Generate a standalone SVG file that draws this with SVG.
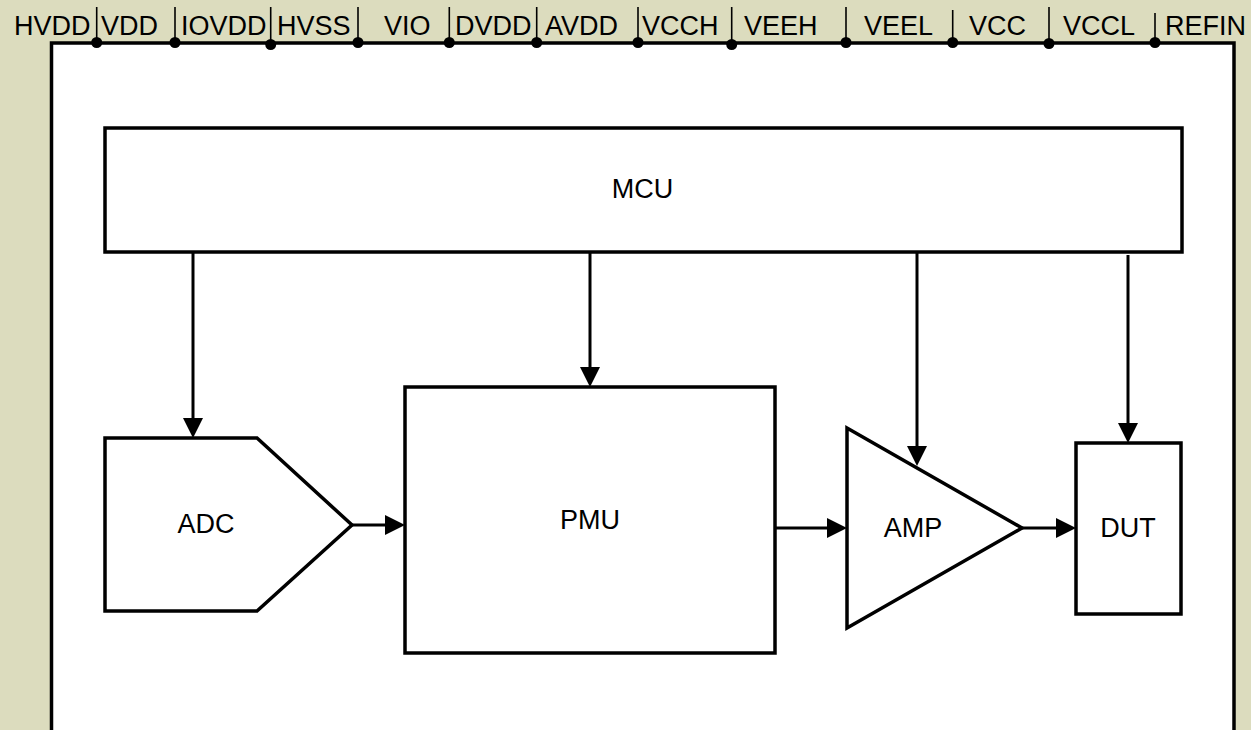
<svg xmlns="http://www.w3.org/2000/svg" width="1251" height="730" viewBox="0 0 1251 730">
<defs>
<style>
.bg{fill:#DCDCBE}
.frame{fill:#FFFFFF;stroke:#000;stroke-width:3.5}
.box{fill:#FFFFFF;stroke:#000;stroke-width:3.5;stroke-linejoin:miter}
.conn{fill:none;stroke:#000;stroke-width:3}
.tick{stroke:#000;stroke-width:1.6}
.dot{fill:#000}
.pin{font-family:"Liberation Sans",Arial,sans-serif;font-size:27px;fill:#000}
.lbl{font-family:"Liberation Sans",Arial,sans-serif;font-size:27px;fill:#000;text-anchor:middle}
</style>
<marker id="ah" viewBox="0 0 20 20" refX="10" refY="10" markerWidth="20" markerHeight="20" markerUnits="userSpaceOnUse" orient="auto">
<path d="M0,0 L20,10 L0,20 Z" fill="#000"/>
</marker>
</defs>
<rect class="bg" x="0" y="0" width="1251" height="730"/>
<g id="frame">
<path class="frame" d="M51.5,732 V43 H1234 V732"/>
</g>
<g id="pins">
<g class="tick-group">
<line class="tick" x1="96.7" y1="7" x2="96.7" y2="42"/>
<line class="tick" x1="175" y1="7" x2="175" y2="42"/>
<line class="tick" x1="270.7" y1="7" x2="270.7" y2="44"/>
<line class="tick" x1="358" y1="7" x2="358" y2="42"/>
<line class="tick" x1="449.3" y1="7" x2="449.3" y2="42"/>
<line class="tick" x1="536.7" y1="7" x2="536.7" y2="42"/>
<line class="tick" x1="638" y1="7" x2="638" y2="42"/>
<line class="tick" x1="731.7" y1="7" x2="731.7" y2="44"/>
<line class="tick" x1="846" y1="7" x2="846" y2="42"/>
<line class="tick" x1="952.7" y1="10" x2="952.7" y2="42"/>
<line class="tick" x1="1049" y1="7" x2="1049" y2="42"/>
<line class="tick" x1="1155" y1="13" x2="1155" y2="42"/>
</g>
<circle class="dot" cx="96.7" cy="42.5" r="5.5"/>
<circle class="dot" cx="175" cy="42.5" r="5.5"/>
<circle class="dot" cx="270.7" cy="44.5" r="5.5"/>
<circle class="dot" cx="358" cy="42.5" r="5.5"/>
<circle class="dot" cx="449.3" cy="42.5" r="5.5"/>
<circle class="dot" cx="536.7" cy="42.5" r="5.5"/>
<circle class="dot" cx="638" cy="42.5" r="5.5"/>
<circle class="dot" cx="731.7" cy="44.5" r="5.5"/>
<circle class="dot" cx="846" cy="42.5" r="5.5"/>
<circle class="dot" cx="952.7" cy="42.5" r="5.5"/>
<circle class="dot" cx="1049" cy="43.5" r="5.5"/>
<circle class="dot" cx="1155" cy="42.5" r="5.5"/>
<text class="pin" x="14" y="35">HVDD</text>
<text class="pin" x="101" y="35">VDD</text>
<text class="pin" x="181" y="35">IOVDD</text>
<text class="pin" x="277" y="35">HVSS</text>
<text class="pin" x="384" y="35">VIO</text>
<text class="pin" x="455" y="35">DVDD</text>
<text class="pin" x="545" y="35">AVDD</text>
<text class="pin" x="642" y="35">VCCH</text>
<text class="pin" x="744" y="35">VEEH</text>
<text class="pin" x="864" y="35">VEEL</text>
<text class="pin" x="969" y="35">VCC</text>
<text class="pin" x="1063" y="35">VCCL</text>
<text class="pin" x="1165" y="35">REFIN</text>
</g>
<g id="mcu">
<rect class="box" x="105" y="128" width="1077" height="124"/>
<text class="lbl" x="642.5" y="198">MCU</text>
</g>
<g id="adc">
<path class="box" d="M105,438 H257 L352,525 L257,611 H105 Z"/>
<text class="lbl" x="206" y="533">ADC</text>
</g>
<g id="pmu">
<rect class="box" x="405" y="387" width="370" height="266"/>
<text class="lbl" x="590" y="529">PMU</text>
</g>
<g id="amp">
<path class="box" d="M847,428 L1022,528 L847,628 Z"/>
<text class="lbl" x="913" y="537">AMP</text>
</g>
<g id="dut">
<rect class="box" x="1076" y="443" width="105" height="171"/>
<text class="lbl" x="1128" y="537">DUT</text>
</g>
<g id="connectors">
<line class="conn" x1="193" y1="252" x2="193" y2="428" marker-end="url(#ah)"/>
<line class="conn" x1="590" y1="252" x2="590" y2="377" marker-end="url(#ah)"/>
<line class="conn" x1="917" y1="252" x2="917" y2="456" marker-end="url(#ah)"/>
<line class="conn" x1="1128" y1="255" x2="1128" y2="433" marker-end="url(#ah)"/>
<line class="conn" x1="352" y1="525" x2="395" y2="525" marker-end="url(#ah)"/>
<line class="conn" x1="775" y1="528" x2="837" y2="528" marker-end="url(#ah)"/>
<line class="conn" x1="1022" y1="528" x2="1066" y2="528" marker-end="url(#ah)"/>
</g>
</svg>
